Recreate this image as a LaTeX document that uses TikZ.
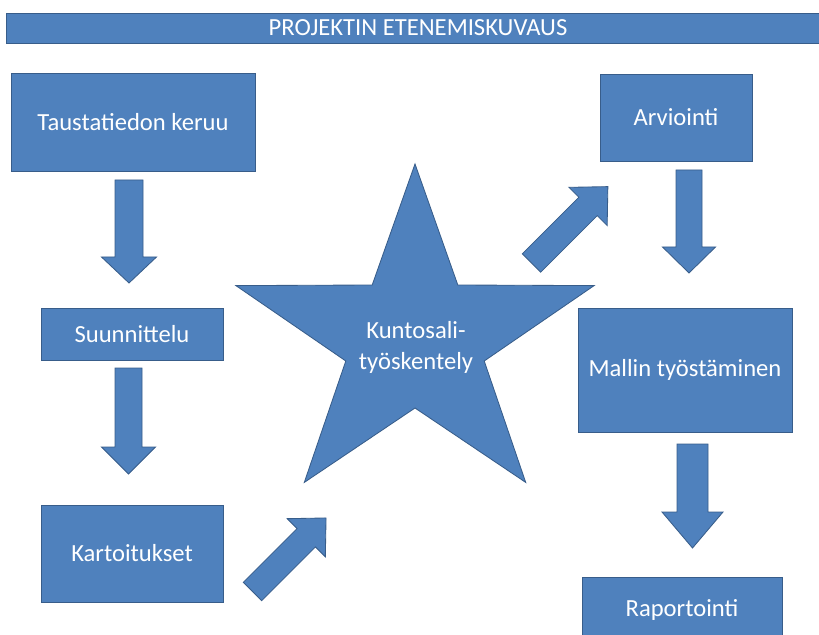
\documentclass[tikz,border=0pt]{standalone}
\usepackage{fontspec}
\setmainfont{Carlito}
\definecolor{boxblue}{RGB}{79,129,189}
\definecolor{edgeblue}{RGB}{56,93,138}
\tikzset{
  pics/blockarrow/.style n args={4}{code={
    \filldraw[shapefill] (0,-#2) -- (#1-#4,-#2) -- (#1-#4,-#3) -- (#1,0)
      -- (#1-#4,#3) -- (#1-#4,#2) -- (0,#2) -- cycle;}}
}
\begin{document}
\begin{tikzpicture}[x=.025cm,y=-.025cm,
  shapefill/.style={fill=boxblue,draw=edgeblue,line width=.6pt},
  stepbox/.style={shapefill,rectangle,text=white,font=\fontsize{17.5}{20}\selectfont,align=center,inner sep=0pt}]
\useasboundingbox (0,0) rectangle (819,635);
\clip (0,0) rectangle (819,635);

% otsikko
\node[stepbox,minimum width=20.55cm,minimum height=.75cm,font=\fontsize{17.5}{20}\selectfont] (title) at (418,28) {PROJEKTIN ETENEMISKUVAUS};

% vasen sarake
\node[stepbox,minimum width=6.1cm,minimum height=2.45cm] (tausta) at (133,122) {Taustatiedon keruu};
\node[stepbox,minimum width=4.55cm,minimum height=1.3cm] (suunn) at (132,334) {Suunnittelu};
\node[stepbox,minimum width=4.55cm,minimum height=2.425cm] (kartoitus) at (132,553.5) {Kartoitukset};

% oikea sarake
\node[stepbox,minimum width=3.8cm,minimum height=2.175cm] (arviointi) at (676,117.5) {Arviointi};
\node[stepbox,minimum width=5.35cm,minimum height=3.1cm] (malli) at (685,370) {Mallin työstäminen};
\node[stepbox,minimum width=5cm,minimum height=1.65cm] (raportointi) at (682,610) {Raportointi};

% tähti
\filldraw[shapefill] (415,164) -- (457.8,285) -- (594.1,285.6) -- (484.2,361) -- (525.7,482.4)
  -- (415,408) -- (304.3,482.4) -- (345.8,361) -- (235.9,285.6) -- (372.2,285) -- cycle;
\node[text=white,font=\fontsize{17.5}{22}\selectfont,align=center] (kuntosali) at (416,347) {Kuntosali-\\työskentely};

% nuolet
\pic[rotate=-90] at (129,180) {blockarrow={103}{14}{27.5}{26}};
\pic[rotate=-90] at (128.5,368) {blockarrow={106}{13.5}{27}{27}};
\pic[rotate=45] at (252.5,591.5) {blockarrow={104}{13}{27}{28}};
\pic[rotate=45] at (531.5,263) {blockarrow={108}{13}{27}{28}};
\pic[rotate=-90] at (689,170) {blockarrow={103}{13}{26.5}{26}};
\pic[rotate=-90] at (692.5,444) {blockarrow={104}{15.5}{30.5}{36}};
\end{tikzpicture}
\end{document}
